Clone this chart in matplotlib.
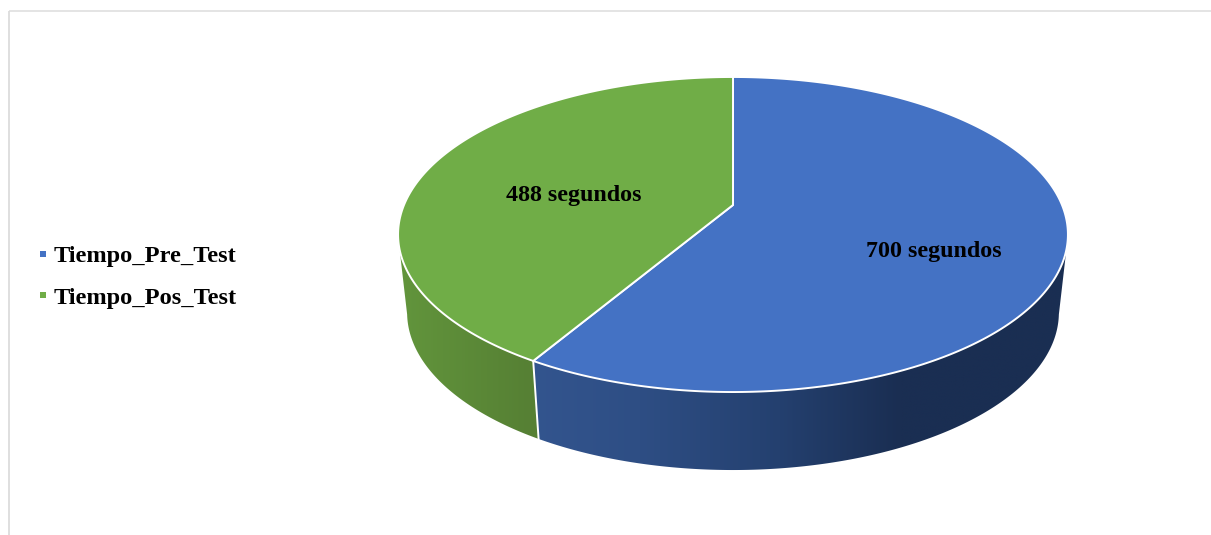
import numpy as np
import matplotlib
matplotlib.use("Agg")
import matplotlib.pyplot as plt
from matplotlib.lines import Line2D
from matplotlib.patches import Polygon

categories = ["Tiempo_Pre_Test", "Tiempo_Pos_Test"]
values = [700, 488]
labels = ["700 segundos", "488 segundos"]
top_colors = ["#4472C4", "#70AD47"]
wall_x = [[530, 640, 780, 900, 1070], [400, 530]]
wall_rgb = [["#33558F", "#2E4E84", "#24406F", "#1A2E52", "#1A2E52"], ["#62953C", "#568034"]]
label_pos = [(934, 252), (574, 196)]

W, H = 1211, 535
CX, R = 733, 329
A, B, C = 113.6, 205.0, -0.1873
WARP = -0.029
DEPTH, SHRINK = 78, 0.973
TEXT = dict(family="Liberation Serif", fontweight="bold", color="black")


def project(theta, level=0.0):
    phi = theta + WARP * np.sin(2 * theta)
    u, v = np.sin(phi), -np.cos(phi)
    d = 1 + C * v
    x = R * u / d
    y = (A * v + B) / d
    return CX + x * (1 - (1 - SHRINK) * level), y + DEPTH * level


fig = plt.figure(figsize=(W / 100, H / 100), dpi=100)
ax = fig.add_axes([0, 0, 1, 1])
ax.set_xlim(0, W)
ax.set_ylim(H, 0)
ax.axis("off")

ax.plot([8.5, W], [11, 11], color="#DCDCDC", lw=1.1, solid_capstyle="butt")
ax.plot([8.5, 8.5], [11, H], color="#DCDCDC", lw=1.3, solid_capstyle="butt")

fractions = np.array(values) / np.sum(values)
edges = np.concatenate([[0], np.cumsum(fractions)]) * 2 * np.pi

# Sidewall: only the near arc is visible; colour varies with x
vis_lo, vis_hi = np.pi / 2 + 0.19, 3 * np.pi / 2 - 0.19
for i in range(len(values)):
    lo, hi = max(edges[i], vis_lo), min(edges[i + 1], vis_hi)
    t = np.linspace(lo, hi, 300)
    x0, y0 = project(t, 0)
    x1, y1 = project(t, 1)
    outline = np.column_stack([np.r_[x0, x1[::-1]], np.r_[y0, y1[::-1]]])
    clip = Polygon(outline, closed=True, transform=ax.transData, facecolor="none", edgecolor="none")
    ax.add_patch(clip)
    xmin, xmax = outline[:, 0].min() - 2, outline[:, 0].max() + 2
    ymin, ymax = outline[:, 1].min() - 2, outline[:, 1].max() + 2
    gx = np.linspace(xmin, xmax, 600)
    rgb = np.array([matplotlib.colors.to_rgb(c) for c in wall_rgb[i]])
    grad = np.stack([np.interp(gx, wall_x[i], rgb[:, k]) for k in range(3)], axis=-1)[None, :, :]
    im = ax.imshow(grad, extent=(xmin, xmax, ymax, ymin), aspect="auto", zorder=2, interpolation="bilinear")
    im.set_clip_path(clip)
ax.set_xlim(0, W)
ax.set_ylim(H, 0)

# White seam on the sidewall between slices
xs0, ys0 = project(edges[1], 0)
xs1, ys1 = project(edges[1], 1)
ax.plot([xs0, xs1], [ys0, ys1], color="white", lw=1.4, zorder=3)

# Top face
for i in range(len(values)):
    t = np.linspace(edges[i], edges[i + 1], 400)
    x, y = project(t, 0)
    pts = np.column_stack([np.r_[CX, x], np.r_[B, y]])
    ax.add_patch(Polygon(pts, closed=True, facecolor=top_colors[i], edgecolor="white",
                         lw=1.4, joinstyle="round", zorder=4))
    ax.text(*label_pos[i], labels[i], ha="center", va="center", fontsize=17.3, zorder=5, **TEXT)

handles = [Line2D([], [], ls="none", marker="s", ms=5, mew=0, color=c) for c in top_colors]
ax.legend(handles, categories, loc="center left", bbox_to_anchor=(36.5 / W, 1 - 277 / H),
          frameon=False, handlelength=0.5, handletextpad=0.21, labelspacing=0.78, borderpad=0, borderaxespad=0,
          prop=dict(family="Liberation Serif", weight="bold", size=17.6))

fig.savefig("out.png", dpi=100)
